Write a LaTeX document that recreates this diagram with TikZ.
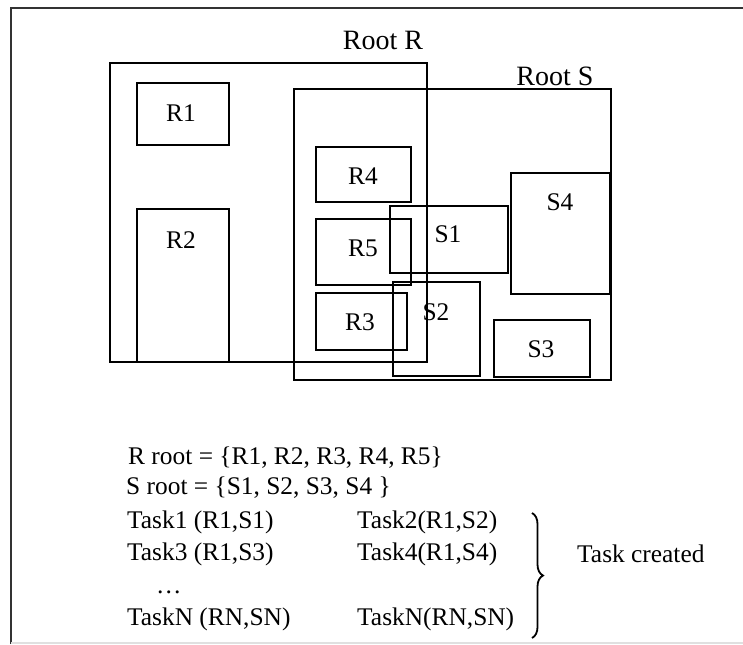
\documentclass[tikz,border=0pt]{standalone}
\usepackage{fontspec}
\setmainfont{Liberation Serif}
\usetikzlibrary{decorations.pathreplacing}

\begin{document}
\begin{tikzpicture}
  [x = .5pt, y = -.5pt, line width = 1.2pt,
   lbl/.style = {font = \fontsize{12.7}{14}\selectfont, inner sep = 0pt},
   rootlbl/.style = {font = \fontsize{14}{16}\selectfont, inner sep = 0pt},
   txt/.style = {font = \fontsize{12.7}{14}\selectfont, inner sep = 0pt, anchor = base west}]
  \useasboundingbox (0,0) rectangle (743,644);
  \draw[color = black!80, line width = 1.3pt] (11,644) -- (11,8) -- (743,8);
  \draw[color = black!12, line width = 1pt] (11,643) -- (743,643);
  % roots and regions
  \foreach \a/\b/\c/\d in {110/63/427/362, 294/89/611/380, 137/83/229/145, 137/209/229/362,
                           316/147/411/202, 316/219/411/285, 316/293/407/350,
                           390/206/508/273, 393/282/480/376, 511/173/610/294, 494/320/590/377}{
    \draw (\a,\b) rectangle (\c,\d);
  }
  \node[rootlbl] (rootR) at (383,40) {Root R};
  \node[rootlbl] (rootS) at (555,76) {Root S};
  \node[lbl] (r1) at (181,113) {R1};
  \node[lbl] (r2) at (181,240) {R2};
  \node[lbl] (r4) at (363,176) {R4};
  \node[lbl] (r5) at (363,248) {R5};
  \node[lbl] (r3) at (360,322) {R3};
  \node[lbl] (s1) at (448,234) {S1};
  \node[lbl] (s2) at (436,312) {S2};
  \node[lbl] (s4) at (560,202) {S4};
  \node[lbl] (s3) at (541,349) {S3};
  % task list
  \node[txt] (rset) at (127,464) {R root = \{R1, R2, R3, R4, R5\}};
  \node[txt] (sset) at (125,494) {S root = \{S1, S2, S3, S4 \}};
  \node[txt] (t1) at (126,528) {Task1 (R1,S1)};
  \node[txt] (t2) at (356,528) {Task2(R1,S2)};
  \node[txt] (t3) at (126,560) {Task3 (R1,S3)};
  \node[txt] (t4) at (356,560) {Task4(R1,S4)};
  \node[txt] (dots) at (155,593) {\dots};
  \node[txt] (tn) at (126,625) {TaskN (RN,SN)};
  \node[txt] (tm) at (356,625) {TaskN(RN,SN)};
  \coordinate (bt) at (532,513);
  \coordinate (bb) at (532,638);
  \draw[decorate, decoration = {brace, amplitude = 5.5pt}, line width = .9pt] (bt) -- (bb);
  \node[txt] (created) at (576,562) {Task created};
\end{tikzpicture}
\end{document}
